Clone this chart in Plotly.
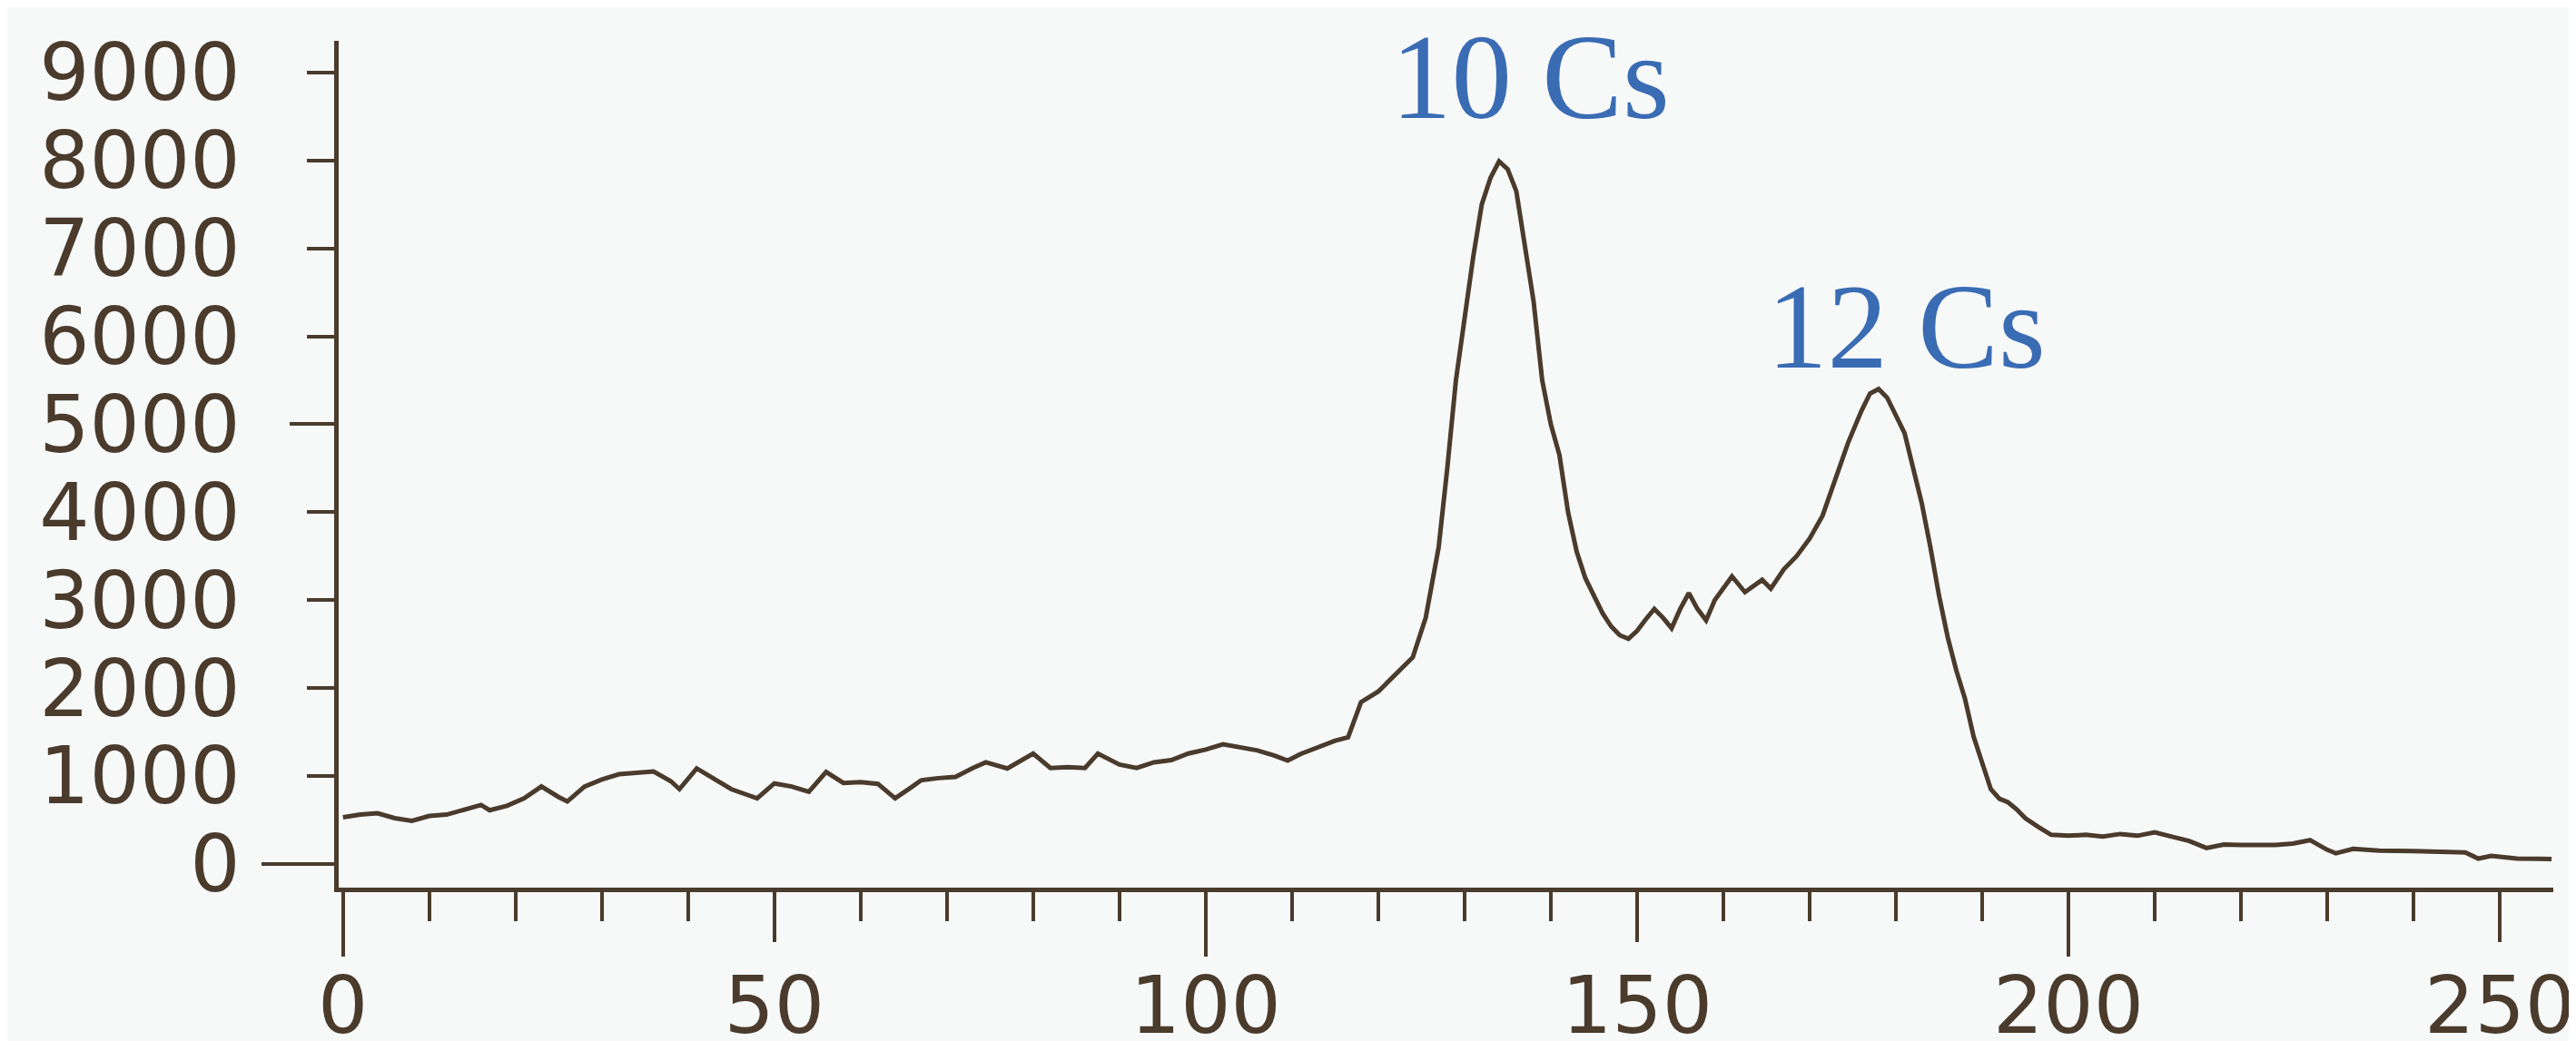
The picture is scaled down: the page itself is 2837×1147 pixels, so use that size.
import plotly.graph_objects as go

# ---- data ----
x_vals = [0, 2, 4, 6, 8, 10, 12, 14, 16, 17, 19, 21, 23, 25, 26, 28, 30, 32, 34, 36,
          38, 39, 41, 43, 45, 47, 48, 50, 52, 54, 56, 58, 60, 62, 64, 66, 67, 69, 71, 73,
          74.5, 77, 80, 82, 84, 86, 87.5, 90, 92, 94, 96, 98, 100, 102, 104, 106, 108, 109.5, 111, 113,
          115, 116.5, 118, 120, 122, 124, 125.5, 127, 128, 129, 130, 131, 132, 133, 134, 135, 136, 137, 138, 139,
          140, 141, 142, 143, 144, 145, 146, 147, 148, 149, 150, 151, 152, 153, 154, 155, 156, 157, 158, 159,
          161, 162.5, 164.5, 165.5, 167, 168.5, 170, 171.5, 173, 174.5, 176, 177, 178, 179, 180, 181, 182, 183, 184, 185,
          186, 187, 188, 189, 190, 191, 192, 193, 194, 195, 196.5, 198, 200, 202, 204, 206, 208, 210, 212, 214,
          216, 218, 220, 222, 224, 226, 228, 230, 231, 233, 236, 240, 244, 246, 247.5, 249, 252, 256]
y_vals = [530, 560, 575, 520, 490, 545, 560, 620, 670, 610, 660, 745, 880, 760, 710, 880, 960, 1020, 1040, 1050,
          940, 850, 1085, 960, 850, 780, 745, 915, 880, 820, 1045, 920, 930, 910, 745, 880, 950, 975, 990, 1090,
          1155, 1085, 1255, 1090, 1100, 1090, 1255, 1130, 1090, 1155, 1180, 1255, 1300, 1360, 1330, 1290, 1230, 1175, 1250, 1330,
          1400, 1440, 1840, 1960, 2150, 2350, 2800, 3600, 4500, 5500, 6200, 6900, 7500, 7800, 7990, 7900, 7650, 7000, 6400, 5500,
          5000, 4650, 4000, 3550, 3250, 3050, 2850, 2700, 2600, 2560, 2650, 2780, 2900, 2800, 2680, 2900, 3080, 2900, 2770, 3000,
          3270, 3090, 3230, 3130, 3350, 3500, 3700, 3960, 4400, 4800, 5150, 5350, 5400, 5300, 5100, 4900, 4500, 4100, 3600, 3050,
          2580, 2200, 1880, 1450, 1150, 850, 740, 700, 620, 520, 420, 330, 320, 330, 310, 340, 320, 360, 310, 260,
          180, 220, 215, 210, 215, 230, 270, 160, 120, 170, 150, 145, 140, 130, 60, 90, 60, 55]

peak_labels = ["10 Cs", "12 Cs"]
peak_label_x = [137.6, 181.2]
peak_label_y = [8950, 6110]

x_tickvals = [0, 50, 100, 150, 200, 250]
x_long_ticks = [0, 100, 200]
y_tickvals = [0, 1000, 2000, 3000, 4000, 5000, 6000, 7000, 8000, 9000]

# ---- styling ----
INK = "#4a3b2c"
BLUE = "#3a6cb4"
BG = "#f7f9f9"
XR = [-0.5, 256.2]
YR = [-270, 9360]

fig = go.Figure()
fig.add_trace(go.Scatter(x=x_vals, y=y_vals, mode="lines",
                         line=dict(color=INK, width=5), showlegend=False))
# helper (empty) traces so that the overlay axes carrying the longer ticks are drawn
fig.add_trace(go.Scatter(x=[], y=[], xaxis="x2", yaxis="y2", showlegend=False))
fig.add_trace(go.Scatter(x=[], y=[], xaxis="x", yaxis="y3", showlegend=False))

for t, xv, yv in zip(peak_labels, peak_label_x, peak_label_y):
    fig.add_annotation(x=xv, y=yv, text=t, showarrow=False, xanchor="center", yanchor="middle",
                       font=dict(family="Liberation Serif", size=133, color=BLUE))

tickfont = dict(family="DejaVu Sans", size=87, color=INK)

fig.update_layout(
    width=2837, height=1147,
    margin=dict(l=365, r=33, t=37, b=177, autoexpand=False),
    paper_bgcolor=BG, plot_bgcolor=BG,
    showlegend=False,
    xaxis=dict(range=XR, automargin=False, showgrid=False, zeroline=False, showline=True,
               linecolor=INK, linewidth=5, ticklabeloverflow="allow",
               tickmode="array", tickvals=x_tickvals, ticks="outside", ticklen=55, tickwidth=4,
               tickcolor=INK, tickfont=tickfont, ticklabelstandoff=-4,
               minor=dict(dtick=10, tick0=0, ticks="outside", ticklen=32, tickwidth=4,
                          tickcolor=INK, showgrid=False)),
    xaxis2=dict(range=XR, automargin=False, overlaying="x", anchor="y", side="bottom", showgrid=False,
                zeroline=False, showline=False, tickmode="array", tickvals=x_long_ticks, ticks="outside",
                ticklen=75, tickwidth=4, tickcolor=INK, showticklabels=False),
    yaxis=dict(range=YR, automargin=False, showgrid=False, zeroline=False, showline=True,
               linecolor=INK, linewidth=5,
               tickmode="array", tickvals=y_tickvals, ticks="outside", ticklen=30, tickwidth=4,
               tickcolor=INK, tickfont=tickfont, ticklabelstandoff=56),
    yaxis2=dict(range=YR, automargin=False, overlaying="y", anchor="x", side="left", showgrid=False,
                zeroline=False, showline=False, tickmode="array", tickvals=[5000], ticks="outside",
                ticklen=53, tickwidth=4, tickcolor=INK, showticklabels=False),
    yaxis3=dict(range=YR, automargin=False, overlaying="y", anchor="x", side="left", showgrid=False,
                zeroline=False, showline=False, tickmode="array", tickvals=[0], ticks="outside",
                ticklen=84, tickwidth=4, tickcolor=INK, showticklabels=False),
)

fig.write_html("out.html")
